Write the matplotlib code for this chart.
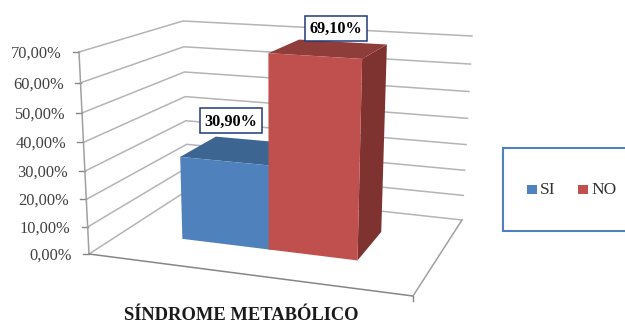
import matplotlib
matplotlib.use('Agg')
import matplotlib.pyplot as plt
from matplotlib.patches import Polygon, Rectangle

categorias = ['SI', 'NO']
valores = [30.90, 69.10]
ticks = [0, 10, 20, 30, 40, 50, 60, 70]

plt.rcParams['font.family'] = ['Liberation Serif', 'DejaVu Serif']

# esquinas de la caja 3D en pixeles (frente/fondo, izq/der)
piso = {'fi': (89, 254), 'fd': (413, 296), 'ai': (188, 190), 'ad': (462, 220)}
techo = {'fi': (79, 52), 'fd': (421, 74), 'ai': (183, 21), 'ad': (472, 36)}

max_val = 70.0
persp = 1.08


def proyectar(u, d, val):
    # u: ancho 0-1, d: profundidad 0-1, val: valor del eje
    v = val / max_val
    v = v / (v + (1 - v) * persp)
    pts = []
    for i in range(2):
        abajo_f = piso['fi'][i] + u * (piso['fd'][i] - piso['fi'][i])
        abajo_a = piso['ai'][i] + u * (piso['ad'][i] - piso['ai'][i])
        arriba_f = techo['fi'][i] + u * (techo['fd'][i] - techo['fi'][i])
        arriba_a = techo['ai'][i] + u * (techo['ad'][i] - techo['ai'][i])
        abajo = abajo_f + d * (abajo_a - abajo_f)
        arriba = arriba_f + d * (arriba_a - arriba_f)
        pts.append(abajo + v * (arriba - abajo))
    return pts[0], pts[1]


fig = plt.figure(figsize=(6.25, 3.22), dpi=100)
ax = fig.add_axes([0, 0, 1, 1])
ax.set_xlim(0, 625)
ax.set_ylim(322, 0)
ax.axis('off')

# lineas de las paredes
for t in ticks:
    p0 = proyectar(0, 0, t)
    p1 = proyectar(0, 1, t)
    p2 = proyectar(1, 1, t)
    ax.plot([p0[0], p1[0], p2[0]], [p0[1], p1[1], p2[1]], color='#b4b4b4', lw=1.1, zorder=1)
    ax.plot([p0[0] - 6, p0[0]], [p0[1], p0[1]], color='#868686', lw=1.0, zorder=1)
    ax.text(p0[0] - 17, p0[1] + 1.5, f'{t:.2f}%'.replace('.', ','), ha='right', va='center',
            fontsize=11.8, color='#404040')

# eje vertical y borde del piso
ej0 = proyectar(0, 0, 0)
ej1 = proyectar(0, 0, 70)
ax.plot([ej0[0], ej1[0]], [ej0[1], ej1[1]], color='#a0a0a0', lw=1.1, zorder=2)
fr = proyectar(1, 0, 0)
ad = proyectar(1, 1, 0)
ax.plot([ej0[0], fr[0]], [ej0[1], fr[1]], color='#868686', lw=1.1, zorder=2)
ax.plot([fr[0], ad[0]], [fr[1], ad[1]], color='#a0a0a0', lw=1.1, zorder=2)
ax.plot([fr[0], fr[0]], [fr[1], fr[1] + 5], color='#868686', lw=1.0, zorder=2)

# barras
centros = [0.3365, 0.618]
ancho = 0.29
d0, d1 = 0.35, 0.74
col_frente = ['#4f81bd', '#c0504d']
col_techo = ['#3d6591', '#8f3d3b']
col_lado = ['#33547a', '#7f3331']

for c, val, cf, ct, cl in zip(centros, valores, col_frente, col_techo, col_lado):
    u0, u1 = c - ancho / 2, c + ancho / 2
    lado = [proyectar(u1, d0, 0), proyectar(u1, d1, 0), proyectar(u1, d1, val), proyectar(u1, d0, val)]
    arriba = [proyectar(u0, d0, val), proyectar(u0, d1, val), proyectar(u1, d1, val), proyectar(u1, d0, val)]
    frente = [proyectar(u0, d0, 0), proyectar(u1, d0, 0), proyectar(u1, d0, val), proyectar(u0, d0, val)]
    ax.add_patch(Polygon(lado, closed=True, fc=cl, ec='none', zorder=3))
    ax.add_patch(Polygon(arriba, closed=True, fc=ct, ec='none', zorder=3))
    ax.add_patch(Polygon(frente, closed=True, fc=cf, ec='none', zorder=3))

# etiquetas de datos
for val, (cx, cy) in zip(valores, [(231, 120.5), (335.5, 28)]):
    ax.add_patch(Rectangle((cx - 31, cy - 12.5), 62, 25, fc='white', ec='#1f3a7a', lw=1.1, zorder=4))
    ax.text(cx, cy + 1, f'{val:.2f}%'.replace('.', ','), ha='center', va='center',
            fontsize=11.7, fontweight='bold', color='black', zorder=5)

# leyenda
ax.add_patch(Rectangle((503, 148), 130, 83, fc='white', ec='#4f81bd', lw=1.5, zorder=2))
for nombre, cf, x in zip(categorias, col_frente, [527, 578]):
    ax.add_patch(Rectangle((x, 185), 10, 9, fc=cf, ec='none', zorder=3))
    ax.text(x + 13, 189.5, nombre, ha='left', va='center', fontsize=12.5, color='#333333', zorder=3)

ax.text(241.5, 319.5, 'SÍNDROME METABÓLICO', ha='center', va='baseline',
        fontsize=13.3, fontweight='bold', color='#1a1a1a')

fig.savefig('out.png', dpi=100)
